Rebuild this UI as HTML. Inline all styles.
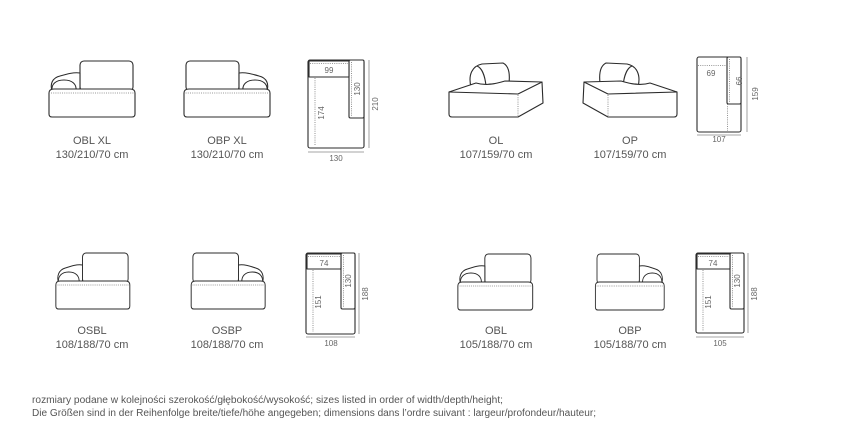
<!DOCTYPE html>
<html><head><meta charset="utf-8"><style>
html,body{margin:0;padding:0;background:#fff;}
svg{display:block;font-family:"Liberation Sans",sans-serif;}
.l{fill:#fff;stroke:#2b2b2b;stroke-width:1.1;stroke-linejoin:round}
.d{fill:none;stroke:#777;stroke-width:0.8;stroke-dasharray:1 1.2}
.m{fill:none;stroke:#888;stroke-width:0.8}
.t{fill:#555;font-size:11px;text-anchor:middle}
.s{fill:#666;font-size:8px;text-anchor:middle}
.f{fill:#555;font-size:10px}
</style></head><body>
<svg width="854" height="443" viewBox="0 0 854 443">
<defs>
<g id="sofa">
 <rect class="l" x="32" y="1" width="53" height="30" rx="4"/>
 <path class="l" d="M4 31 C2 24 4 18 12 16 C19 14 26 12 32 13 L32 31 Z"/>
 <path class="l" d="M4 31 C3 24 8 20 16 20 C24 20 29 24 28 31 Z"/>
 <path class="l" d="M1 33 Q1 29 6 29 L82 29 Q87 29 87 33 L87 54 Q87 57 84 57 L4 57 Q1 57 1 54 Z"/>
 <line class="d" x1="3" y1="33" x2="86" y2="33"/>
</g>
</defs>
<use href="#sofa" transform="translate(48,60)"/>
<use href="#sofa" transform="translate(271,60) scale(-1,1)"/>
<use href="#sofa" transform="translate(55,252) scale(0.86,1)"/>
<use href="#sofa" transform="translate(266,252) scale(-0.86,1)"/>
<use href="#sofa" transform="translate(457,253) scale(0.87,1)"/>
<use href="#sofa" transform="translate(665,253) scale(-0.8,1)"/>

<!-- OL -->
<path class="l" d="M471 87 C468 75 472 66 482 64 L503 63 C509 66 510 74 509 83 Z"/>
<path class="l" d="M486 86 C485 76 482 68 477 66"/>
<path class="l" d="M449 92 L490 84 L542 82 L543 103 L518 117 L452 117 Q449 117 449 114 Z"/>
<path class="l" d="M449 92 L476 83 C486 86 495 84 505 81 L542 82 L518 94 Z"/>
<line class="d" x1="518" y1="95" x2="518" y2="116"/>
<!-- OP -->
<path class="l" d="M638 87 C641 75 637 66 627 64 L606 63 C600 66 599 74 600 83 Z"/>
<path class="l" d="M623 86 C624 76 627 68 632 66"/>
<path class="l" d="M677 92 L636 84 L584 82 L583 103 L608 117 L674 117 Q677 117 677 114 Z"/>
<path class="l" d="M677 92 L650 83 C640 86 631 84 621 81 L584 82 L608 94 Z"/>
<line class="d" x1="608" y1="95" x2="608" y2="116"/>

<!-- Plan OBL XL -->
<rect class="l" x="308" y="60" width="56" height="88" rx="2"/>
<rect class="l" x="349" y="60" width="15" height="58" rx="1.5"/>
<rect class="l" x="309" y="61" width="40" height="16"/>
<line class="d" x1="310" y1="63.5" x2="348" y2="63.5"/>
<line class="d" x1="351.5" y1="62" x2="351.5" y2="116"/>
<line class="d" x1="315" y1="78" x2="315" y2="146"/>
<text class="s" x="329" y="73">99</text>
<text class="s" transform="translate(360,89) rotate(-90)">130</text>
<text class="s" transform="translate(324,113) rotate(-90)">174</text>
<line class="m" x1="369" y1="60" x2="369" y2="148"/>
<text class="s" transform="translate(378,104) rotate(-90)">210</text>
<line class="m" x1="308" y1="152" x2="364" y2="152"/>
<text class="s" x="336" y="161">130</text>

<!-- Plan OL -->
<rect class="l" x="697" y="57" width="44" height="75" rx="2"/>
<rect class="l" x="727" y="57" width="14" height="47" rx="1.5"/>
<line class="d" x1="698" y1="65.5" x2="726" y2="65.5"/>
<line class="d" x1="729.5" y1="59" x2="729.5" y2="102"/>
<line class="d" x1="727.5" y1="104" x2="727.5" y2="131"/>
<text class="s" x="711" y="76">69</text>
<text class="s" transform="translate(736,81) rotate(90)">99</text>
<line class="m" x1="747" y1="57" x2="747" y2="132"/>
<text class="s" transform="translate(758,94) rotate(-90)">159</text>
<line class="m" x1="697" y1="135" x2="741" y2="135"/>
<text class="s" x="719" y="142">107</text>

<!-- Plan OSBL -->
<rect class="l" x="306" y="253" width="49" height="81" rx="2"/>
<rect class="l" x="341" y="253" width="14" height="56" rx="1.5"/>
<rect class="l" x="307" y="254" width="34" height="15"/>
<line class="d" x1="308" y1="256.5" x2="340" y2="256.5"/>
<line class="d" x1="343.5" y1="255" x2="343.5" y2="307"/>
<line class="d" x1="313" y1="270" x2="313" y2="332"/>
<text class="s" x="324" y="266">74</text>
<text class="s" transform="translate(351,281) rotate(-90)">130</text>
<text class="s" transform="translate(321,302) rotate(-90)">151</text>
<line class="m" x1="359" y1="253" x2="359" y2="334"/>
<text class="s" transform="translate(368,294) rotate(-90)">188</text>
<line class="m" x1="306" y1="337" x2="355" y2="337"/>
<text class="s" x="331" y="346">108</text>

<!-- Plan OBL -->
<rect class="l" x="696" y="253" width="48" height="80" rx="2"/>
<rect class="l" x="730" y="253" width="14" height="56" rx="1.5"/>
<rect class="l" x="697" y="254" width="33" height="15"/>
<line class="d" x1="698" y1="256.5" x2="729" y2="256.5"/>
<line class="d" x1="732.5" y1="255" x2="732.5" y2="307"/>
<line class="d" x1="703" y1="270" x2="703" y2="331"/>
<text class="s" x="713" y="266">74</text>
<text class="s" transform="translate(740,281) rotate(-90)">130</text>
<text class="s" transform="translate(711,302) rotate(-90)">151</text>
<line class="m" x1="748" y1="253" x2="748" y2="333"/>
<text class="s" transform="translate(757,294) rotate(-90)">188</text>
<line class="m" x1="696" y1="337" x2="744" y2="337"/>
<text class="s" x="720" y="346">105</text>

<text class="t" x="92" y="144">OBL XL</text>
<text class="t" x="92" y="158">130/210/70 cm</text>
<text class="t" x="227" y="144">OBP XL</text>
<text class="t" x="227" y="158">130/210/70 cm</text>
<text class="t" x="496" y="144">OL</text>
<text class="t" x="496" y="158">107/159/70 cm</text>
<text class="t" x="630" y="144">OP</text>
<text class="t" x="630" y="158">107/159/70 cm</text>
<text class="t" x="92" y="334">OSBL</text>
<text class="t" x="92" y="348">108/188/70 cm</text>
<text class="t" x="227" y="334">OSBP</text>
<text class="t" x="227" y="348">108/188/70 cm</text>
<text class="t" x="496" y="334">OBL</text>
<text class="t" x="496" y="348">105/188/70 cm</text>
<text class="t" x="630" y="334">OBP</text>
<text class="t" x="630" y="348">105/188/70 cm</text>

<text class="f" x="32" y="403" textLength="471" lengthAdjust="spacingAndGlyphs">rozmiary podane w kolejności szerokość/głębokość/wysokość; sizes listed in order of width/depth/height;</text>
<text class="f" x="32" y="416" textLength="564" lengthAdjust="spacingAndGlyphs">Die Größen sind in der Reihenfolge breite/tiefe/höhe angegeben; dimensions dans l’ordre suivant : largeur/profondeur/hauteur;</text>
</svg>
</body></html>
